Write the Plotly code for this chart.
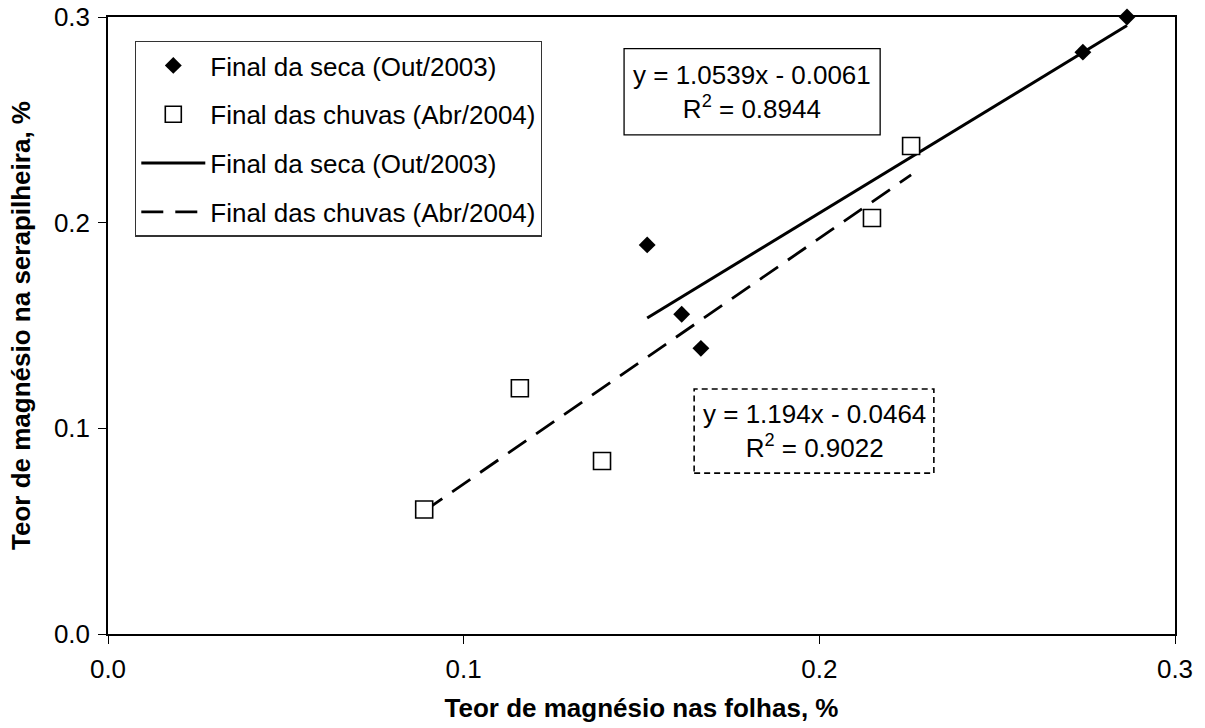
import plotly.graph_objects as go

# Data
seca_x = [0.1516, 0.1613, 0.1667, 0.2741, 0.2865]
seca_y = [0.1892, 0.1555, 0.1389, 0.2829, 0.3000]
chuvas_x = [0.0889, 0.1158, 0.1389, 0.2148, 0.2258]
chuvas_y = [0.0605, 0.1195, 0.0841, 0.2023, 0.2373]

# Regression coefficients shown on the chart
seca_fit = [1.0539, -0.0061]
chuvas_fit = [1.194, -0.0464]
seca_r2 = 0.8944
chuvas_r2 = 0.9022

tick_vals = [0.0, 0.1, 0.2, 0.3]
tick_text = ["0.0", "0.1", "0.2", "0.3"]

label_seca = "Final da seca (Out/2003)"
label_chuvas = "Final das chuvas (Abr/2004)"
x_title = "Teor de magnésio nas folhas, %"
y_title = "Teor de magnésio na serapilheira, %"

FONT = "Liberation Sans, Arial, sans-serif"
FS = 26


def fit_line(xs, coef):
    x0, x1 = min(xs), max(xs)
    return [x0, x1], [coef[0] * x0 + coef[1], coef[0] * x1 + coef[1]]


sx, sy = fit_line(seca_x, seca_fit)
cx, cy = fit_line(chuvas_x, chuvas_fit)

fig = go.Figure()
fig.add_trace(go.Scatter(
    x=sx, y=sy, mode="lines", name=label_seca, legendgroup="c", legendrank=3,
    line=dict(color="black", width=3)))
fig.add_trace(go.Scatter(
    x=cx, y=cy, mode="lines", name=label_chuvas, legendgroup="d", legendrank=4,
    line=dict(color="black", width=2.8, dash="22px,12px")))
fig.add_trace(go.Scatter(
    x=seca_x, y=seca_y, mode="markers", name=label_seca, legendgroup="a", legendrank=1,
    marker=dict(symbol="diamond", size=13, color="black", line=dict(width=0)),
    cliponaxis=False))
fig.add_trace(go.Scatter(
    x=chuvas_x, y=chuvas_y, mode="markers", name=label_chuvas, legendgroup="b", legendrank=2,
    marker=dict(symbol="square", size=17, color="white", line=dict(width=1.6, color="black")),
    cliponaxis=False))

eq1 = f"y = {seca_fit[0]:.4f}x - {abs(seca_fit[1]):.4f}<br>R<sup>2</sup> = {seca_r2:.4f}"
eq2 = f"y = {chuvas_fit[0]:.3f}x - {abs(chuvas_fit[1]):.4f}<br>R<sup>2</sup> = {chuvas_r2:.4f}"

fig.add_shape(type="rect", xref="x", yref="y", x0=0.1451, x1=0.2171, y0=0.2427, y1=0.2846,
              line=dict(color="black", width=1.3), fillcolor="white", layer="below")
fig.add_shape(type="rect", xref="x", yref="y", x0=0.1648, x1=0.2322, y0=0.0782, y1=0.1191,
              line=dict(color="black", width=1.6, dash="6px,4px"), fillcolor="white", layer="below")
fig.add_annotation(x=0.1811, y=0.2637, xref="x", yref="y", text=eq1, showarrow=False,
                   font=dict(family=FONT, size=FS, color="black"), align="center")
fig.add_annotation(x=0.1985, y=0.0987, xref="x", yref="y", text=eq2, showarrow=False,
                   font=dict(family=FONT, size=FS, color="black"), align="center")

axis_common = dict(
    range=[0, 0.3], tickvals=tick_vals, ticktext=tick_text, ticks="outside", ticklen=8,
    tickwidth=1.3, tickcolor="black", showline=True, linecolor="black", linewidth=1.5,
    mirror=True, showgrid=False, zeroline=False, automargin=False,
    ticklabeloverflow="allow",
    tickfont=dict(family=FONT, size=FS, color="black"),
)

fig.update_layout(
    width=1205, height=728,
    margin=dict(l=108, r=30, t=17, b=94, autoexpand=False),
    paper_bgcolor="white", plot_bgcolor="white",
    showlegend=True,
    legend=dict(x=0.0253, y=0.9616, xanchor="left", yanchor="top",
                bordercolor="#333", borderwidth=1.3, bgcolor="white",
                font=dict(family=FONT, size=FS, color="black"),
                tracegroupgap=12, itemwidth=64),
    xaxis=dict(**axis_common, ticklabelstandoff=3,
               title=dict(text=f"<b>{x_title}</b>", font=dict(family=FONT, size=FS, color="black"),
                          standoff=16)),
    yaxis=dict(**axis_common, ticklabelstandoff=3,
               title=dict(text=f"<b>{y_title}</b>", font=dict(family=FONT, size=FS, color="black"),
                          standoff=16)),
)

# remove the browser's default 8px page margin so the figure fills the window
fig.write_html("out.html",
               config={"displayModeBar": False},
               post_script="document.body.style.margin='0';document.body.style.overflow='hidden';")
